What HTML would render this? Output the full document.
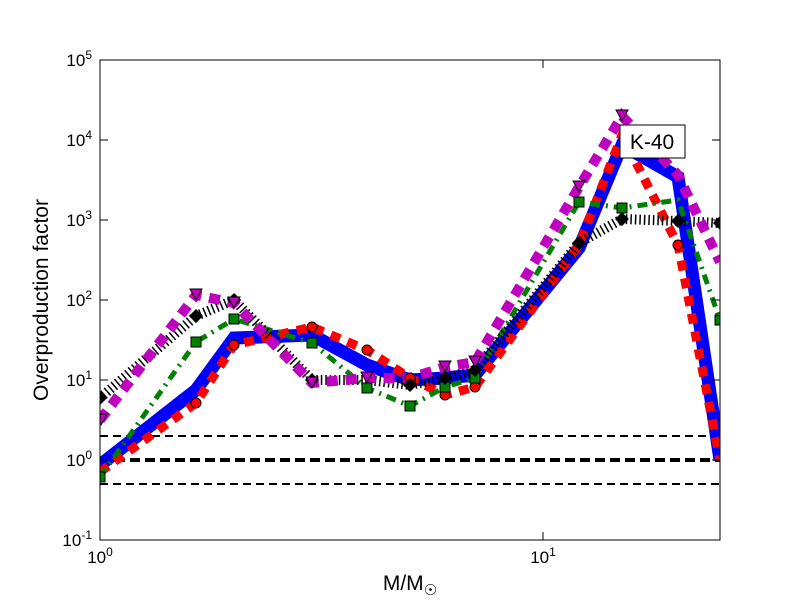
<!DOCTYPE html><html><head><style>body{margin:0;background:#fff}svg{display:block}text{font-family:"Liberation Sans",sans-serif}</style></head><body>
<svg width="800" height="600" xmlns="http://www.w3.org/2000/svg">
<rect width="800" height="600" fill="#fff"/>
<defs><clipPath id="c"><rect x="100" y="60" width="620" height="480"/></clipPath></defs>
<g clip-path="url(#c)" fill="none">
<line x1="100" x2="720" y1="436" y2="436" stroke="#000" stroke-width="2" stroke-dasharray="8,5"/>
<line x1="100" x2="720" y1="460" y2="460" stroke="#000" stroke-width="4" stroke-dasharray="10,5"/>
<line x1="100" x2="720" y1="484" y2="484" stroke="#000" stroke-width="2" stroke-dasharray="8,5"/>
<polyline stroke="#0000ff" stroke-width="13" points="100,465 196,390 234,338 312,335 367,365 410,380 445,378 475,375 579,248 622,145 678,177 720,460"/>
<polyline stroke="#ff0000" stroke-width="9" stroke-dasharray="10,8" points="100,472 196,403 234,345 312,327 367,350 410,378 445,395 475,387 579,245 622,135 678,245 720,460"/>
<polyline stroke="#008000" stroke-width="5" stroke-dasharray="10,6,2,6" points="100,477 196,342 234,319 312,343 367,388 410,406 445,387 475,378 579,202 622,208 678,200 720,320"/>
<polyline stroke="#000" stroke-width="10" stroke-dasharray="1.5,3" points="100,398 196,316 234,300 312,380 367,380 410,385 445,378 475,370 579,243 622,219 678,221 720,223"/>
<polyline stroke="#bf00bf" stroke-width="10" stroke-dasharray="11,8" points="100,420 196,295 234,303 312,383 367,378 410,378 445,367 475,362 579,187 622,116 678,175 720,262"/>
<g fill="#ff0000" stroke="#000">
<circle cx="196" cy="403" r="5"/><circle cx="234" cy="345" r="5"/><circle cx="312" cy="327" r="5"/><circle cx="367" cy="350" r="5"/><circle cx="410" cy="378" r="5"/><circle cx="445" cy="395" r="5"/><circle cx="475" cy="387" r="5"/><circle cx="678" cy="245" r="5"/></g>
<g fill="#008000" stroke="#000">
<rect x="95" y="472" width="10" height="10"/><rect x="191" y="337" width="10" height="10"/><rect x="229" y="314" width="10" height="10"/><rect x="307" y="338" width="10" height="10"/><rect x="362" y="383" width="10" height="10"/><rect x="405" y="401" width="10" height="10"/><rect x="440" y="382" width="10" height="10"/><rect x="470" y="373" width="10" height="10"/><rect x="574" y="197" width="10" height="10"/><rect x="617" y="203" width="10" height="10"/><rect x="715" y="315" width="10" height="10"/></g>
<g fill="#000"><path d="M100,391l7,7-7,7-7-7z M196,309l7,7-7,7-7-7z M234,293l7,7-7,7-7-7z M312,373l7,7-7,7-7-7z M410,378l7,7-7,7-7-7z M445,371l7,7-7,7-7-7z M475,363l7,7-7,7-7-7z M579,236l7,7-7,7-7-7z M622,212l7,7-7,7-7-7z M678,214l7,7-7,7-7-7z M720,216l7,7-7,7-7-7z"/></g>
<g fill="#bf00bf" stroke="#000"><path d="M190,289h12l-6,11z M228,297h12l-6,11z M306,377h12l-6,11z M361,372h12l-6,11z M439,361h12l-6,11z M469,356h12l-6,11z M573,181h12l-6,11z M616,110h12l-6,11z M95,414h12l-6,11z"/></g>
</g>
<rect x="100" y="60" width="620" height="480" fill="none" stroke="#000"/>
<g stroke="#000">
<line x1="100" x2="108" y1="140" y2="140"/><line x1="100" x2="108" y1="220" y2="220"/><line x1="100" x2="108" y1="300" y2="300"/><line x1="100" x2="108" y1="380" y2="380"/><line x1="100" x2="108" y1="460" y2="460"/>
<line x1="712" x2="720" y1="140" y2="140"/><line x1="712" x2="720" y1="220" y2="220"/><line x1="712" x2="720" y1="300" y2="300"/><line x1="712" x2="720" y1="380" y2="380"/><line x1="712" x2="720" y1="460" y2="460"/>
<line x1="543" x2="543" y1="540" y2="532"/><line x1="543" x2="543" y1="60" y2="68"/>
</g>
<g font-size="17" text-anchor="end">
<text x="92" y="66">10<tspan font-size="12" dy="-7">5</tspan></text>
<text x="92" y="146">10<tspan font-size="12" dy="-7">4</tspan></text>
<text x="92" y="226">10<tspan font-size="12" dy="-7">3</tspan></text>
<text x="92" y="306">10<tspan font-size="12" dy="-7">2</tspan></text>
<text x="92" y="386">10<tspan font-size="12" dy="-7">1</tspan></text>
<text x="92" y="466">10<tspan font-size="12" dy="-7">0</tspan></text>
<text x="92" y="546">10<tspan font-size="12" dy="-7">-1</tspan></text>
</g>
<g font-size="17" text-anchor="middle"><text x="100" y="563">10<tspan font-size="12" dy="-7">0</tspan></text><text x="543" y="563">10<tspan font-size="12" dy="-7">1</tspan></text></g>
<text x="410" y="590" font-size="21" text-anchor="middle">M/M<tspan font-size="15" dy="5">☉</tspan></text>
<text transform="translate(48,300) rotate(-90)" font-size="21" text-anchor="middle">Overproduction factor</text>
<rect x="620" y="125" width="65" height="33" fill="#fff" stroke="#000"/>
<text x="652" y="149" font-size="21" text-anchor="middle">K-40</text>
</svg></body></html>
